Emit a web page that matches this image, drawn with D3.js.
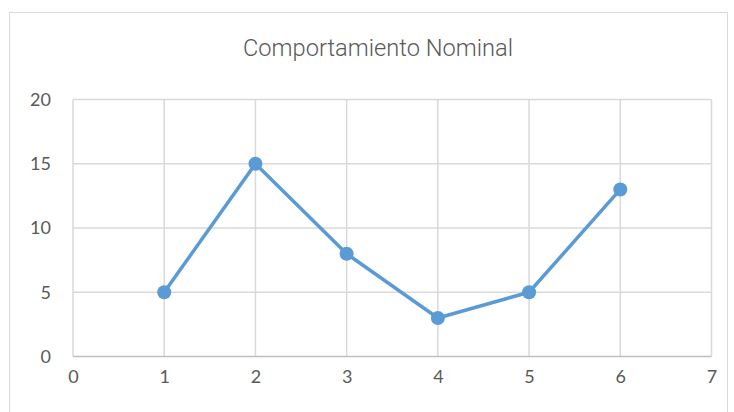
<!DOCTYPE html>
<html><head><meta charset="utf-8">
<script src="https://cdn.jsdelivr.net/npm/d3@7"></script>
<style>body{margin:0;background:#fff}svg{display:block}</style>
</head><body>
<svg id="c" width="734" height="412"></svg>
<script>
const xValues = [1, 2, 3, 4, 5, 6];
const yValues = [5, 15, 8, 3, 5, 13];
const xTicks = [0, 1, 2, 3, 4, 5, 6, 7];
const yTicks = [0, 5, 10, 15, 20];
const title = "Comportamiento Nominal";

const svg = d3.select("#c");
const font = "Lato, 'Open Sans', sans-serif";
svg.append("rect").attr("x", 9.5).attr("y", 12.5).attr("width", 718).attr("height", 410)
  .attr("fill", "#fff").attr("stroke", "#d9d9d9").attr("stroke-width", 1);

const x = d3.scaleLinear().domain([0, 7]).range([73, 711.5]);
const y = d3.scaleLinear().domain([0, 20]).range([356.5, 99.5]);

svg.append("text").attr("x", 378).attr("y", 56).attr("text-anchor", "middle")
  .attr("font-family", "Roboto, sans-serif").attr("font-weight", 300)
  .attr("font-size", 24.5).attr("fill", "#595959")
  .attr("textLength", 270).attr("lengthAdjust", "spacingAndGlyphs").text(title);

const g = svg.append("g");
g.selectAll(".hg").data(yTicks.filter(d => d > 0)).join("line")
  .attr("x1", x(0)).attr("x2", x(7)).attr("y1", d => y(d)).attr("y2", d => y(d))
  .attr("stroke", "#d9d9d9").attr("stroke-width", 1.5);
g.selectAll(".vg").data(xTicks).join("line")
  .attr("x1", d => x(d)).attr("x2", d => x(d)).attr("y1", y(0)).attr("y2", y(20))
  .attr("stroke", "#d9d9d9").attr("stroke-width", 1.5);
g.append("line").attr("x1", x(0)).attr("x2", x(7)).attr("y1", y(0)).attr("y2", y(0))
  .attr("stroke", "#bfbfbf").attr("stroke-width", 1.5);

const xAxis = svg.append("g").attr("transform", `translate(0,${y(0)})`)
  .call(d3.axisBottom(x).tickValues(xTicks).tickSize(0).tickPadding(14).tickFormat(d3.format("d")));
xAxis.select(".domain").remove();
xAxis.selectAll("text").attr("font-family", font).attr("font-size", 18).attr("fill", "#595959");

const yAxis = svg.append("g").attr("transform", `translate(51,0)`)
  .call(d3.axisLeft(y).tickValues(yTicks).tickSize(0).tickPadding(0).tickFormat(d3.format("d")));
yAxis.select(".domain").remove();
yAxis.selectAll("text").attr("font-family", font).attr("font-size", 18).attr("fill", "#595959");

const data = xValues.map((d, i) => [d, yValues[i]]);
svg.append("path").datum(data).attr("fill", "none").attr("stroke", "#5b9bd5")
  .attr("stroke-width", 3.5).attr("stroke-linejoin", "round")
  .attr("d", d3.line().x(d => x(d[0])).y(d => y(d[1])));
svg.selectAll(".pt").data(data).join("circle")
  .attr("cx", d => x(d[0])).attr("cy", d => y(d[1])).attr("r", 7).attr("fill", "#5b9bd5");
</script>
</body></html>
